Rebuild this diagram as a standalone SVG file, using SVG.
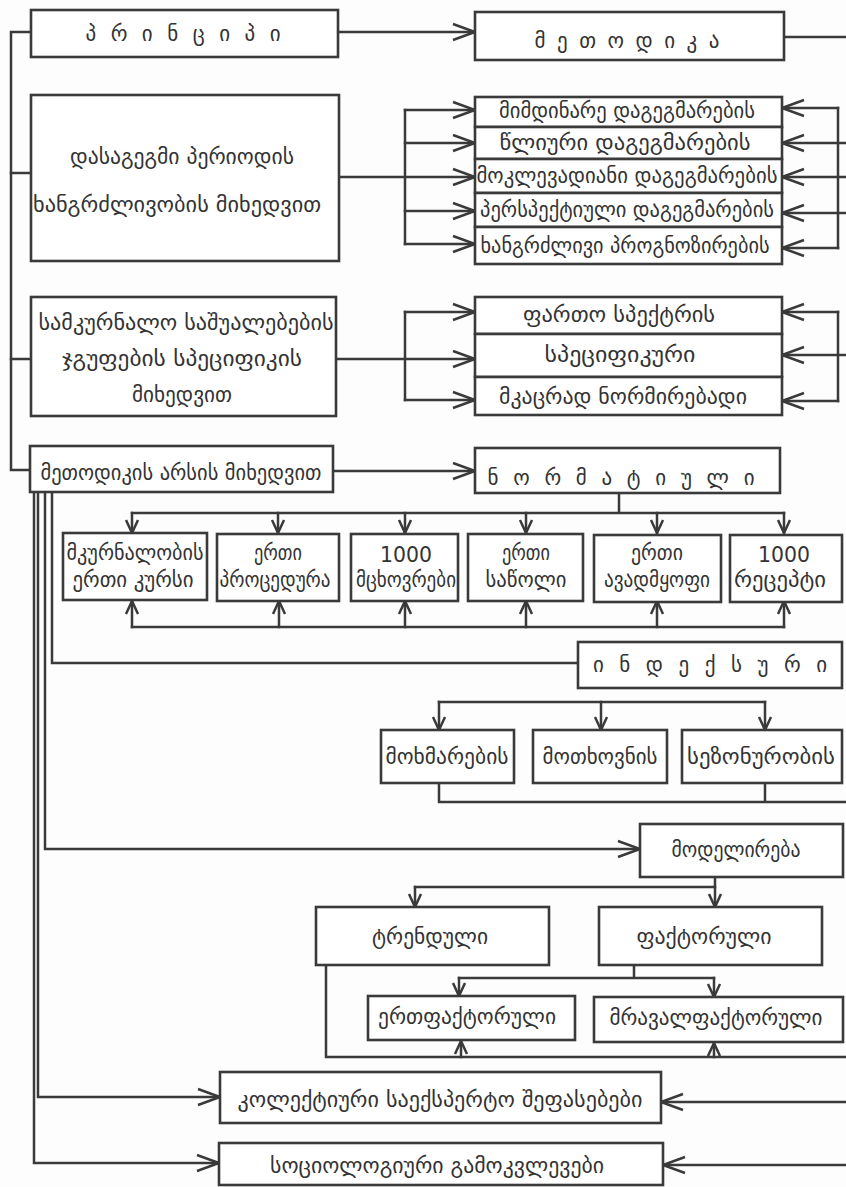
<svg xmlns="http://www.w3.org/2000/svg" width="846" height="1187" viewBox="0 0 846 1187">
  <style>
    .box { fill: #ffffff; stroke: #3a3a3a; stroke-width: 2.6; }
    .ln { fill: none; stroke: #3a3a3a; stroke-width: 2.5; stroke-linecap: square; }
    .arr { marker-end: url(#arw); }
    .sarr { marker-end: url(#sarw); }
    text { font-family: "DejaVu Sans", "Noto Sans", sans-serif; font-size: 21px; fill: #333333; text-anchor: middle; }
  </style>
  <defs>
    <marker id="arw" markerUnits="userSpaceOnUse" markerWidth="26" markerHeight="20" refX="23" refY="9" orient="auto" overflow="visible">
      <path d="M1,1 L23,9 L1,17" fill="none" stroke="#3a3a3a" stroke-width="2.5"/>
    </marker>
    <marker id="sarw" markerUnits="userSpaceOnUse" markerWidth="16" markerHeight="14" refX="14" refY="7" orient="auto" overflow="visible">
      <path d="M1,1 L14,7 L1,13" fill="none" stroke="#3a3a3a" stroke-width="2.5"/>
    </marker>
  </defs>
  <rect width="846" height="1187" fill="#fdfdfd"/>

  <!-- connectors -->
  <g id="connectors">
    <!-- main left bracket -->
    <path class="ln" d="M31,32 H11 V470 H30"/>
    <path class="ln" d="M11,173 H31"/>
    <path class="ln" d="M11,359 H31"/>
    <path class="ln arr" d="M338,32 H475"/>
    <path class="ln" d="M784,37 H846"/>

    <!-- planning period -->
    <path class="ln arr" d="M339,177 H475"/>
    <path class="ln" d="M405,110 V244"/>
    <path class="ln arr" d="M405,110 H475"/>
    <path class="ln arr" d="M405,143 H475"/>
    <path class="ln arr" d="M405,211 H475"/>
    <path class="ln arr" d="M405,244 H475"/>
    <path class="ln" d="M838,108 V248"/>
    <path class="ln arr" d="M838,108 H782"/>
    <path class="ln arr" d="M846,143 H782"/>
    <path class="ln arr" d="M846,177 H782"/>
    <path class="ln arr" d="M846,213 H782"/>
    <path class="ln arr" d="M838,248 H782"/>

    <!-- drug groups -->
    <path class="ln arr" d="M336,359 H475"/>
    <path class="ln" d="M405,312 V400"/>
    <path class="ln arr" d="M405,312 H475"/>
    <path class="ln arr" d="M405,400 H475"/>
    <path class="ln" d="M838,312 V401"/>
    <path class="ln arr" d="M838,312 H782"/>
    <path class="ln arr" d="M846,355 H782"/>
    <path class="ln arr" d="M838,401 H782"/>

    <!-- essence of methodology -->
    <path class="ln arr" d="M333,471 H475"/>
    <path class="ln" d="M619,493 V513 M132,513 H784"/>
    <path class="ln sarr" d="M132,513 V533"/>
    <path class="ln sarr" d="M278,513 V533"/>
    <path class="ln sarr" d="M405,513 V533"/>
    <path class="ln sarr" d="M526,513 V533"/>
    <path class="ln sarr" d="M657,513 V533"/>
    <path class="ln sarr" d="M784,513 V533"/>
    <path class="ln" d="M132,627 H784"/>
    <path class="ln sarr" d="M132,627 V601"/>
    <path class="ln sarr" d="M279,627 V601"/>
    <path class="ln sarr" d="M405,627 V601"/>
    <path class="ln sarr" d="M526,627 V601"/>
    <path class="ln sarr" d="M657,627 V601"/>
    <path class="ln sarr" d="M784,627 V601"/>

    <!-- vertical lines below the essence box -->
    <path class="ln" d="M52,492 V663 H578"/>
    <path class="ln arr" d="M45,492 V849 H640"/>
    <path class="ln arr" d="M38,492 V1097 H220"/>
    <path class="ln arr" d="M34,492 V1163 H219"/>

    <!-- index branch -->
    <path class="ln" d="M439,702 H765"/>
    <path class="ln sarr" d="M439,702 V730"/>
    <path class="ln sarr" d="M601,702 V730"/>
    <path class="ln sarr" d="M765,702 V730"/>
    <path class="ln" d="M439,783 V802 H846 M765,783 V802"/>

    <!-- modeling branch -->
    <path class="ln" d="M715,877 V887 H415"/>
    <path class="ln sarr" d="M415,887 V907"/>
    <path class="ln sarr" d="M715,887 V907"/>
    <path class="ln" d="M634,965 V978 H459 M634,978 H714"/>
    <path class="ln sarr" d="M459,978 V996"/>
    <path class="ln sarr" d="M714,978 V997"/>
    <path class="ln" d="M326,965 V1057 H846"/>
    <path class="ln sarr" d="M461,1057 V1041"/>
    <path class="ln sarr" d="M714,1057 V1043"/>

    <!-- expert and sociological -->
    <path class="ln arr" d="M846,1102 H661"/>
    <path class="ln arr" d="M846,1165 H663"/>
  </g>

  <!-- nodes -->
  <g id="n-principle">
    <rect class="box" x="31" y="10" width="307" height="47"/>
    <text x="183" y="41" textLength="195" lengthAdjust="spacing">პრინციპი</text>
  </g>
  <g id="n-methodology">
    <rect class="box" x="475" y="12" width="309" height="48"/>
    <text x="627" y="48" textLength="185" lengthAdjust="spacing">მეთოდიკა</text>
  </g>
  <g id="n-period">
    <rect class="box" x="31" y="95" width="308" height="166"/>
    <text x="182" y="164" textLength="224" lengthAdjust="spacingAndGlyphs">დასაგეგმი პერიოდის</text>
    <text x="177" y="212" textLength="288" lengthAdjust="spacingAndGlyphs">ხანგრძლივობის მიხედვით</text>
  </g>
  <g id="n-current">
    <rect class="box" x="475" y="97" width="307" height="30"/>
    <text x="627" y="118" textLength="256" lengthAdjust="spacingAndGlyphs">მიმდინარე დაგეგმარების</text>
  </g>
  <g id="n-annual">
    <rect class="box" x="475" y="127" width="307" height="32"/>
    <text x="625" y="150" textLength="251" lengthAdjust="spacingAndGlyphs">წლიური დაგეგმარების</text>
  </g>
  <g id="n-short">
    <rect class="box" x="475" y="159" width="307" height="34"/>
    <text x="627" y="183" textLength="301" lengthAdjust="spacingAndGlyphs">მოკლევადიანი დაგეგმარების</text>
  </g>
  <g id="n-perspective">
    <rect class="box" x="475" y="193" width="307" height="34"/>
    <text x="627" y="217" textLength="294" lengthAdjust="spacingAndGlyphs">პერსპექტიული დაგეგმარების</text>
  </g>
  <g id="n-longterm">
    <rect class="box" x="475" y="227" width="307" height="37"/>
    <text x="625" y="253" textLength="289" lengthAdjust="spacingAndGlyphs">ხანგრძლივი პროგნოზირების</text>
  </g>

  <g id="n-groups">
    <rect class="box" x="31" y="297" width="305" height="119"/>
    <text x="186" y="330" textLength="295" lengthAdjust="spacingAndGlyphs">სამკურნალო საშუალებების</text>
    <text x="182" y="366" textLength="240" lengthAdjust="spacingAndGlyphs">ჯგუფების სპეციფიკის</text>
    <text x="182" y="402" textLength="100" lengthAdjust="spacingAndGlyphs">მიხედვით</text>
  </g>
  <g id="n-broad">
    <rect class="box" x="475" y="297" width="307" height="37"/>
    <text x="619" y="322" textLength="192" lengthAdjust="spacingAndGlyphs">ფართო სპექტრის</text>
  </g>
  <g id="n-specific">
    <rect class="box" x="475" y="334" width="307" height="43"/>
    <text x="620" y="362" textLength="151" lengthAdjust="spacingAndGlyphs">სპეციფიკური</text>
  </g>
  <g id="n-strict">
    <rect class="box" x="475" y="377" width="307" height="38"/>
    <text x="623" y="404" textLength="248" lengthAdjust="spacingAndGlyphs">მკაცრად ნორმირებადი</text>
  </g>

  <g id="n-essence">
    <rect class="box" x="30" y="446" width="303" height="46"/>
    <text x="181" y="480" textLength="281" lengthAdjust="spacingAndGlyphs">მეთოდიკის არსის მიხედვით</text>
  </g>
  <g id="n-normative">
    <rect class="box" x="475" y="448" width="305" height="45"/>
    <text x="621" y="485" textLength="267" lengthAdjust="spacing">ნორმატიული</text>
  </g>

  <g id="n-course">
    <rect class="box" x="63" y="533" width="144" height="67"/>
    <text x="135" y="560" textLength="137" lengthAdjust="spacingAndGlyphs">მკურნალობის</text>
    <text x="133" y="587" textLength="121" lengthAdjust="spacingAndGlyphs">ერთი კურსი</text>
  </g>
  <g id="n-procedure">
    <rect class="box" x="217" y="534" width="122" height="67"/>
    <text x="278" y="560" textLength="48" lengthAdjust="spacingAndGlyphs">ერთი</text>
    <text x="275" y="587" textLength="111" lengthAdjust="spacingAndGlyphs">პროცედურა</text>
  </g>
  <g id="n-residents">
    <rect class="box" x="351" y="534" width="107" height="67"/>
    <text x="406" y="562" textLength="52" lengthAdjust="spacingAndGlyphs">1000</text>
    <text x="406" y="587" textLength="100" lengthAdjust="spacingAndGlyphs">მცხოვრები</text>
  </g>
  <g id="n-bed">
    <rect class="box" x="468" y="534" width="115" height="67"/>
    <text x="526" y="560" textLength="48" lengthAdjust="spacingAndGlyphs">ერთი</text>
    <text x="526" y="587" textLength="81" lengthAdjust="spacingAndGlyphs">საწოლი</text>
  </g>
  <g id="n-patient">
    <rect class="box" x="594" y="535" width="127" height="67"/>
    <text x="657" y="560" textLength="52" lengthAdjust="spacingAndGlyphs">ერთი</text>
    <text x="657" y="587" textLength="106" lengthAdjust="spacingAndGlyphs">ავადმყოფი</text>
  </g>
  <g id="n-recipes">
    <rect class="box" x="730" y="535" width="112" height="67"/>
    <text x="784" y="562" textLength="52" lengthAdjust="spacingAndGlyphs">1000</text>
    <text x="780" y="587" textLength="92" lengthAdjust="spacingAndGlyphs">რეცეპტი</text>
  </g>

  <g id="n-index">
    <rect class="box" x="578" y="642" width="264" height="46"/>
    <text x="710" y="672" textLength="234" lengthAdjust="spacing">ინდექსური</text>
  </g>
  <g id="n-consumption">
    <rect class="box" x="381" y="730" width="133" height="53"/>
    <text x="447" y="764" textLength="123" lengthAdjust="spacingAndGlyphs">მოხმარების</text>
  </g>
  <g id="n-demand">
    <rect class="box" x="533" y="730" width="134" height="53"/>
    <text x="600" y="764" textLength="115" lengthAdjust="spacingAndGlyphs">მოთხოვნის</text>
  </g>
  <g id="n-seasonal">
    <rect class="box" x="682" y="730" width="160" height="53"/>
    <text x="761" y="764" textLength="148" lengthAdjust="spacingAndGlyphs">სეზონურობის</text>
  </g>

  <g id="n-modeling">
    <rect class="box" x="640" y="824" width="203" height="53"/>
    <text x="736" y="857" textLength="129" lengthAdjust="spacingAndGlyphs">მოდელირება</text>
  </g>
  <g id="n-trend">
    <rect class="box" x="316" y="907" width="233" height="58"/>
    <text x="430" y="944" textLength="116" lengthAdjust="spacingAndGlyphs">ტრენდული</text>
  </g>
  <g id="n-factor">
    <rect class="box" x="599" y="907" width="223" height="58"/>
    <text x="704" y="944" textLength="135" lengthAdjust="spacingAndGlyphs">ფაქტორული</text>
  </g>
  <g id="n-single">
    <rect class="box" x="368" y="996" width="207" height="44"/>
    <text x="467" y="1024" textLength="178" lengthAdjust="spacingAndGlyphs">ერთფაქტორული</text>
  </g>
  <g id="n-multi">
    <rect class="box" x="594" y="997" width="249" height="45"/>
    <text x="716" y="1025" textLength="213" lengthAdjust="spacingAndGlyphs">მრავალფაქტორული</text>
  </g>

  <g id="n-collective">
    <rect class="box" x="220" y="1072" width="441" height="51"/>
    <text x="440" y="1107" textLength="405" lengthAdjust="spacingAndGlyphs">კოლექტიური საექსპერტო შეფასებები</text>
  </g>
  <g id="n-sociological">
    <rect class="box" x="219" y="1143" width="444" height="42"/>
    <text x="437" y="1173" textLength="334" lengthAdjust="spacingAndGlyphs">სოციოლოგიური გამოკვლევები</text>
  </g>
</svg>
